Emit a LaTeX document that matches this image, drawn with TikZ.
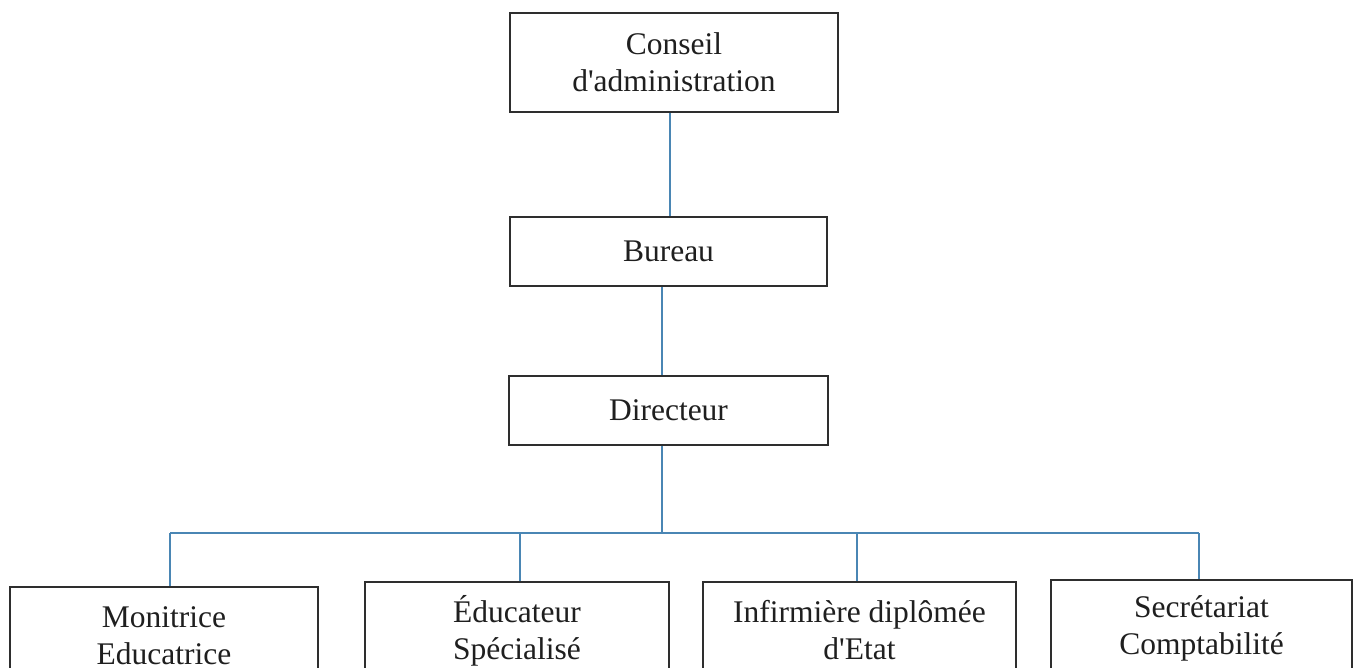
\documentclass[tikz,border=0pt]{standalone}
\usepackage{fontspec}
\setmainfont{Liberation Serif}
\definecolor{linkblue}{HTML}{4A86B4}
\definecolor{boxline}{HTML}{2E2E2E}
\tikzset{
  orgbox/.style={draw=boxline, line width=1.8pt, rectangle, inner sep=0pt, align=center,
    font=\fontsize{31.5}{37}\selectfont, text=black!88},
  link/.style={draw=linkblue, line width=1.6pt}
}
\begin{document}
\begin{tikzpicture}[x=1pt,y=-1pt]
\useasboundingbox (0,0) rectangle (1360,668);
\fill[white] (0,0) rectangle (1360,668);
\clip (0,0) rectangle (1360,668);
\node[orgbox, minimum width=328pt, minimum height=99pt] (conseil) at (674,62.5) {Conseil\\d\textquotesingle administration};
\node[orgbox, minimum width=317pt, minimum height=69pt] (bureau) at (668.5,251.5) {Bureau};
\node[orgbox, minimum width=319pt, minimum height=69pt] (directeur) at (668.5,410.5) {Directeur};
\node[orgbox, minimum width=308pt, minimum height=97pt] (box1) at (164,635.5) {Monitrice\\Educatrice};
\node[orgbox, minimum width=304pt, minimum height=97pt] (box2) at (517,630.5) {Éducateur\\Spécialisé};
\node[orgbox, minimum width=313pt, minimum height=97pt] (box3) at (859.5,630.5) {Infirmière diplômée\\d\textquotesingle Etat};
\node[orgbox, minimum width=301pt, minimum height=97pt] (box4) at (1201.5,628.5) {Secrétariat\\Comptabilité};
\coordinate (c1) at (670,112);
\coordinate (c2) at (662,286);
\coordinate (bus) at (662,533);
\coordinate (d1) at (170,533);
\coordinate (d2) at (520,533);
\coordinate (d3) at (857,533);
\coordinate (d4) at (1199,533);
\draw[link] (c1 |- conseil.south) -- (c1 |- bureau.north);
\draw[link] (c2 |- bureau.south) -- (c2 |- directeur.north);
\draw[link] (bus |- directeur.south) -- (bus);
\draw[link] (d1) -- (d4);
\draw[link] (d1) -- (d1 |- box1.north);
\draw[link] (d2) -- (d2 |- box2.north);
\draw[link] (d3) -- (d3 |- box3.north);
\draw[link] (d4) -- (d4 |- box4.north);
\end{tikzpicture}
\end{document}
